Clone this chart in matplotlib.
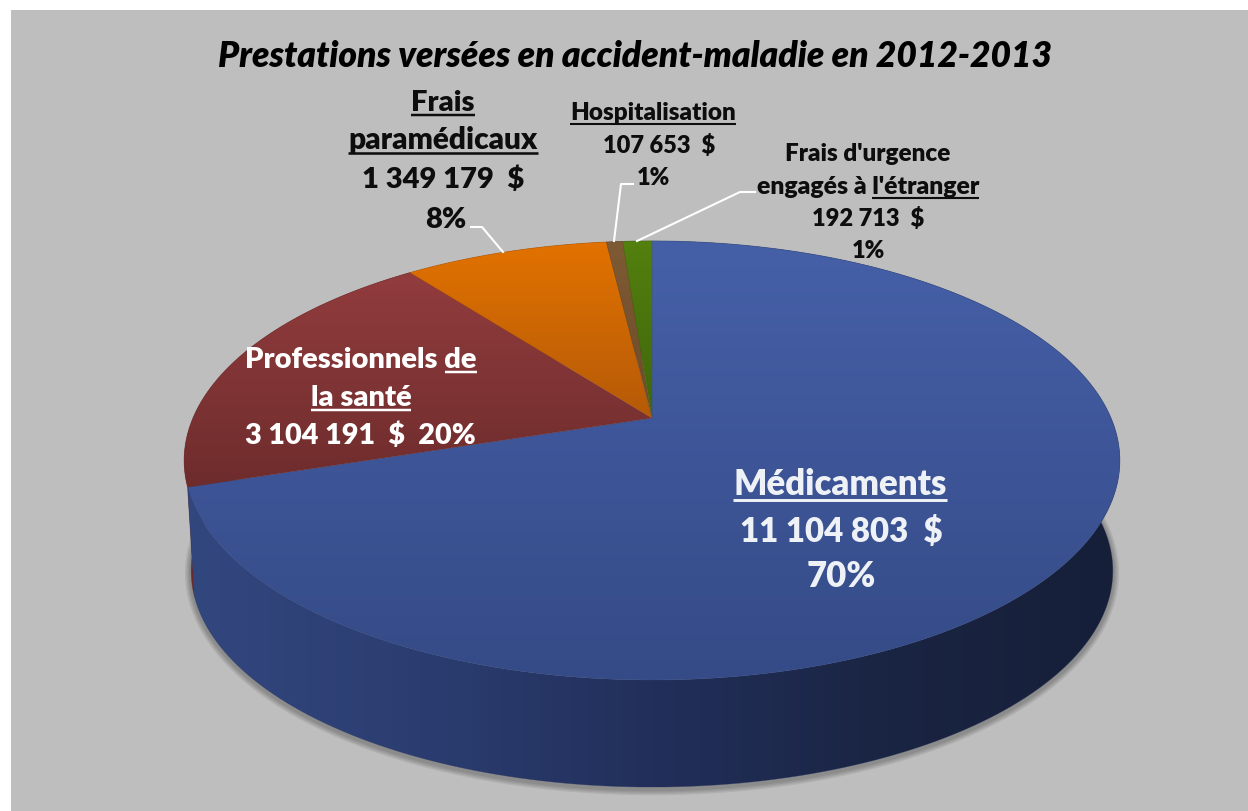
import numpy as np
import matplotlib
matplotlib.use("Agg")
import matplotlib.pyplot as plt
from matplotlib.colors import LinearSegmentedColormap
from matplotlib.patches import Polygon

plt.rcParams["font.family"] = ["Lato", "DejaVu Sans"]

title = "Prestations versées en accident-maladie en 2012-2013"
categories = ["Médicaments", "Professionnels de la santé", "Frais paramédicaux",
              "Hospitalisation", "Frais d'urgence engagés à l'étranger"]
amounts = [11104803, 3104191, 1349179, 107653, 192713]
percents = ["70%", "20%", "8%", "1%", "1%"]

top_colors = [("#4660A8", "#354B87"), ("#923C3E", "#6E2C2C"), ("#E27200", "#B55A08"),
              ("#7E5A34", "#6E4C2A"), ("#53800F", "#3F660C")]
side_colors = [("#33477F", "#2B3D70", "#222F5A", "#1A2543", "#161F38"), ("#6E2A2A", "#5A2020"),
               ("#A85400", "#8A4500"), ("#5A3E22", "#4A3219"), ("#3C5C0A", "#304A08")]

WEIGHT = 800
CX, CY = 652, 418
BX, BY, K = 459, 211.3, 0.1935
DEPTH_CY, DEPTH_S = 529, 0.985


def rim(theta, cy=CY, s=1.0):
    # theta clockwise from 12 o'clock, perspective disc projected to pixels
    u, v = np.sin(theta), np.cos(theta)
    w = 1 + K * v
    return CX + s * BX * u / w, cy - s * BY * v / w


def fill_gradient(ax, verts, colors, horizontal=False, zorder=2):
    verts = np.asarray(verts)
    x0, y0 = verts.min(axis=0)
    x1, y1 = verts.max(axis=0)
    cmap = LinearSegmentedColormap.from_list("g", colors)
    ramp = np.linspace(0, 1, 256)
    ramp = ramp[None, :] if horizontal else ramp[:, None]
    im = ax.imshow(ramp, cmap=cmap, extent=(x0, x1, y1, y0), aspect="auto",
                   interpolation="bilinear", zorder=zorder)
    patch = Polygon(verts, closed=True, transform=ax.transData, fc="none", ec="none")
    ax.add_patch(patch)
    im.set_clip_path(patch)
    ax.add_patch(Polygon(verts, closed=True, fc="none", ec=colors[len(colors) // 2],
                         lw=0.5, alpha=0.4, zorder=zorder))


def text_line(ax, x, y, s, size, color="#0D0D0D", underline=None):
    t = ax.text(x, y, s, ha="center", va="baseline", fontsize=size, fontweight=WEIGHT,
                color=color, zorder=6)
    if underline is None:
        return t
    r = ax.figure.canvas.get_renderer()
    bb = t.get_window_extent(r)
    i = s.index(underline)
    probe = ax.text(0, 0, s[:i + len(underline)], fontsize=size, fontweight=WEIGHT)
    end = probe.get_window_extent(r).width
    probe.set_text(s[:i])
    start = probe.get_window_extent(r).width if i else 0
    probe.remove()
    uy = y + size * 0.2
    ax.plot([bb.x0 + start, bb.x0 + end], [uy, uy], color=color, lw=size * 0.085,
            solid_capstyle="butt", zorder=6)
    return t


def money(v):
    return f"{v:,}".replace(",", " ") + "  $"


fig = plt.figure(figsize=(12.48, 8.11), dpi=100, facecolor="white")
ax = fig.add_axes([0, 0, 1, 1])
ax.set_axis_off()
ax.add_patch(plt.Rectangle((11, 10), 1240, 805, fc="#BEBEBE", ec="none", zorder=0))

# slice angles from the amounts
fractions = np.array(amounts) / sum(amounts)
edges = np.concatenate([[0], np.cumsum(fractions)]) * 2 * np.pi

# soft shadow under the base
full = np.linspace(0, 2 * np.pi, 360)
sx, sy = rim(full, DEPTH_CY + 2, DEPTH_S)
for lw in (9, 7, 5, 3):
    ax.plot(sx, sy, color="black", lw=lw, alpha=0.07, zorder=1)

# sides, back to front, blue last so it sits over the sliver of red
for i in [4, 3, 2, 1, 0]:
    th = np.linspace(edges[i], edges[i + 1], 200)
    tx, ty = rim(th)
    bx, by = rim(th, DEPTH_CY, DEPTH_S)
    verts = np.r_[np.c_[tx, ty], np.c_[bx, by][::-1]]
    fill_gradient(ax, verts, list(side_colors[i]), horizontal=True, zorder=2)

# top faces
for i in range(5):
    th = np.linspace(edges[i], edges[i + 1], 300)
    tx, ty = rim(th)
    verts = np.r_[[[CX, CY]], np.c_[tx, ty]]
    fill_gradient(ax, verts, list(top_colors[i]), zorder=3)

# leader lines
leaders = [([471, 482, 503], [227, 227, 252]),
           ([633, 621, 614], [184, 184, 241]),
           ([755, 740, 637], [192, 192, 241])]
for lx, ly in leaders:
    ax.plot(lx, ly, color="white", lw=1.5, zorder=5)

ax.set_xlim(0, 1248)
ax.set_ylim(811, 0)

ax.text(635, 67, title, ha="center", va="baseline", fontsize=25.5, fontweight=WEIGHT,
        fontstyle="italic", color="black", zorder=6)

fig.canvas.draw()

text_line(ax, 443, 111, "Frais", 21, underline="Frais")
text_line(ax, 443, 149, "paramédicaux", 21.5, underline="paramédicaux")
text_line(ax, 443, 188, money(amounts[2]), 21)
text_line(ax, 446, 228, percents[2], 21)

text_line(ax, 653, 120, "Hospitalisation", 17.5, underline="Hospitalisation")
text_line(ax, 659, 153, money(amounts[3]), 17)
text_line(ax, 653, 185, percents[3], 17)

text_line(ax, 868, 161, "Frais d'urgence", 17.5)
text_line(ax, 868, 194, "engagés à l'étranger", 17.8, underline="l'étranger")
text_line(ax, 868, 226, money(amounts[4]), 17)
text_line(ax, 868, 258, percents[4], 17)

text_line(ax, 361, 368, "Professionnels de", 21, color="white", underline="de")
text_line(ax, 361, 406, "la santé", 21, color="white", underline="la santé")
text_line(ax, 360, 444, money(amounts[1]) + "  " + percents[1], 20.7, color="white")

text_line(ax, 840, 495, "Médicaments", 25, color="#EEF1F6", underline="Médicaments")
text_line(ax, 841, 542, money(amounts[0]), 23.8, color="#EEF1F6")
text_line(ax, 841, 587, percents[0], 25, color="#EEF1F6")

fig.savefig("out.png", dpi=100)
